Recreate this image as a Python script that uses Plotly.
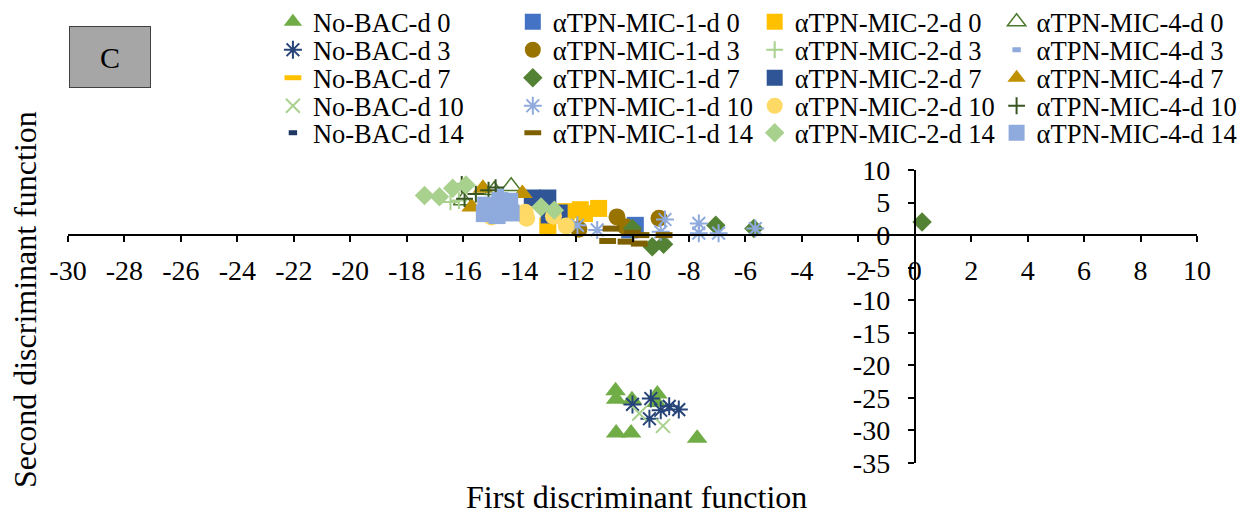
import plotly.graph_objects as go

# ---------------- data ----------------
NOBAC_D0_X = [-10.60, -10.58, -10.02, -9.12, -9.15, -10.58, -10.05, -7.71]
NOBAC_D0_Y = [-23.9, -25.2, -25.3, -24.4, -25.7, -30.4, -30.4, -31.2]
NOBAC_D3_X = [-10.00, -9.35, -9.40, -9.00, -8.70, -8.36]
NOBAC_D3_Y = [-26.0, -25.1, -28.2, -26.9, -26.3, -26.8]
NOBAC_D7_X = [-14.80, -14.50]
NOBAC_D7_Y = [4.2, 4.6]
NOBAC_D10_X = [-9.76, -8.92]
NOBAC_D10_Y = [-27.4, -29.3]
NOBAC_D14_X = [-15.00, -14.60]
NOBAC_D14_Y = [4.0, 3.6]

MIC1_D0_X = [-9.90, -10.10]
MIC1_D0_Y = [1.5, 0.8]
MIC1_D3_X = [-10.55, -9.06, -11.90, -10.25]
MIC1_D3_Y = [2.8, 2.6, 0.9, 1.3]
MIC1_D7_X = [-9.30, -8.90, -7.05, -5.70, 0.26, -10.00]
MIC1_D7_Y = [-1.8, -1.4, 1.5, 1.0, 2.0, 1.0]
MIC1_D10_X = [-11.95, -11.25, -8.85, -9.00, -7.65, -7.65, -6.95, -5.65]
MIC1_D10_Y = [1.5, 0.8, 2.4, 0.5, 1.8, 0.3, 0.3, 1.0]
MIC1_D14_X = [-10.76, -10.88, -10.00, -9.70, -10.23, -9.76, -8.88]
MIC1_D14_Y = [1.0, -0.9, 0.35, 0.0, -1.0, -1.3, 0.0]

MIC2_D0_X = [-11.20, -11.85, -11.70, -12.35, -13.00]
MIC2_D0_Y = [4.1, 3.9, 3.3, 3.6, 1.4]
MIC2_D3_X = [-16.45, -16.15]
MIC2_D3_Y = [5.1, 5.3]
MIC2_D7_X = [-13.55, -13.00, -12.95, -12.60]
MIC2_D7_Y = [5.7, 5.7, 3.1, 3.4]
MIC2_D10_X = [-13.80, -13.75, -12.35, -12.80, -15.00]
MIC2_D10_Y = [3.5, 2.6, 1.4, 2.9, 2.8]
MIC2_D14_X = [-17.37, -16.84, -16.37, -15.90, -13.24, -12.77]
MIC2_D14_Y = [6.1, 5.9, 7.2, 7.7, 4.3, 3.8]

MIC4_D0_X = [-16.00, -14.30, -14.90]
MIC4_D0_Y = [5.3, 7.5, 6.9]
MIC4_D3_X = [-15.20, -14.70]
MIC4_D3_Y = [7.0, 6.8]
MIC4_D7_X = [-15.70, -15.30, -13.90, -14.60]
MIC4_D7_Y = [4.3, 7.2, 6.4, 5.0]
MIC4_D10_X = [-16.05, -15.95, -15.55, -14.85, -15.10]
MIC4_D10_Y = [7.8, 5.6, 6.3, 7.3, 6.9]
MIC4_D14_X = [-15.25, -15.20, -14.75, -14.35, -14.30, -14.80, -14.70]
MIC4_D14_Y = [3.3, 4.6, 4.0, 5.2, 3.4, 3.0, 5.3]

X_TICKS = list(range(-30, 11, 2))
Y_TICKS = list(range(-35, 11, 5))

# ---------------- styles ----------------
FONT = "Liberation Serif, Times New Roman, serif"
L, R, T, B = 68, 1197.5, 170, 463


def px_x(p):
    return (p - L) / (R - L)


def px_y(p):
    return (B - p) / (B - T)


def filled(symbol, color, size):
    return dict(symbol=symbol, color=color, size=size, line=dict(width=0, color=color))


def lined(symbol, color, size, width):
    return dict(symbol=symbol, color=color, size=size, line=dict(width=width, color=color))


# legend order (row-major, 4 columns x 5 rows as in the picture)
series = [
    ("No-BAC-d 0", NOBAC_D0_X, NOBAC_D0_Y, filled("triangle-up", "#70AD47", 18)),
    ("αTPN-MIC-1-d 0", MIC1_D0_X, MIC1_D0_Y, filled("square", "#4472C4", 17)),
    ("αTPN-MIC-2-d 0", MIC2_D0_X, MIC2_D0_Y, filled("square", "#FFC000", 17)),
    ("αTPN-MIC-4-d 0", MIC4_D0_X, MIC4_D0_Y, lined("triangle-up-open", "#4E7A2E", 17, 1.5)),
    ("No-BAC-d 3", NOBAC_D3_X, NOBAC_D3_Y, lined("asterisk-open", "#264478", 15, 2)),
    ("αTPN-MIC-1-d 3", MIC1_D3_X, MIC1_D3_Y, filled("circle", "#997300", 17)),
    ("αTPN-MIC-2-d 3", MIC2_D3_X, MIC2_D3_Y, lined("cross-thin-open", "#A9D18E", 12, 2)),
    ("αTPN-MIC-4-d 3", MIC4_D3_X, MIC4_D3_Y, lined("line-ew-open", "#8FAADC", 6, 5)),
    ("No-BAC-d 7", NOBAC_D7_X, NOBAC_D7_Y, lined("line-ew-open", "#FFC000", 12, 5)),
    ("αTPN-MIC-1-d 7", MIC1_D7_X, MIC1_D7_Y, filled("diamond", "#548235", 15)),
    ("αTPN-MIC-2-d 7", MIC2_D7_X, MIC2_D7_Y, filled("square", "#2F5597", 17)),
    ("αTPN-MIC-4-d 7", MIC4_D7_X, MIC4_D7_Y, filled("triangle-up", "#BF9000", 18)),
    ("No-BAC-d 10", NOBAC_D10_X, NOBAC_D10_Y, lined("x-thin-open", "#A9D18E", 14, 2)),
    ("αTPN-MIC-1-d 10", MIC1_D10_X, MIC1_D10_Y, lined("asterisk-open", "#8FAADC", 15, 2)),
    ("αTPN-MIC-2-d 10", MIC2_D10_X, MIC2_D10_Y, filled("circle", "#FFD966", 17)),
    ("αTPN-MIC-4-d 10", MIC4_D10_X, MIC4_D10_Y, lined("cross-thin-open", "#375623", 12, 2)),
    ("No-BAC-d 14", NOBAC_D14_X, NOBAC_D14_Y, lined("line-ew-open", "#203864", 6, 5)),
    ("αTPN-MIC-1-d 14", MIC1_D14_X, MIC1_D14_Y, lined("line-ew-open", "#7F6000", 12, 6)),
    ("αTPN-MIC-2-d 14", MIC2_D14_X, MIC2_D14_Y, filled("diamond", "#A9D18E", 15)),
    ("αTPN-MIC-4-d 14", MIC4_D14_X, MIC4_D14_Y, filled("square", "#8FAADC", 17)),
]

COL_TEXT_X = [313, 553, 795, 1037]
ROW_Y = [22, 50, 78, 106, 133]

fig = go.Figure()
legends = {}
for i, (name, xs, ys, marker) in enumerate(series):
    key = "legend" if i == 0 else f"legend{i + 1}"
    fig.add_trace(go.Scatter(x=xs, y=ys, mode="markers", name=name, marker=marker,
                             legend=key))
    col, row = i % 4, i // 4
    legends[key] = dict(
        x=px_x(COL_TEXT_X[col] - 40), y=px_y(ROW_Y[row]),
        xanchor="left", yanchor="middle",
        bgcolor="rgba(0,0,0,0)", borderwidth=0,
        font=dict(family=FONT, size=26.5, color="black"),
        itemsizing="trace",
    )

fig.update_layout(**legends)

fig.update_layout(
    width=1250, height=517,
    margin=dict(l=L, r=1250 - R, t=T, b=517 - B, autoexpand=False),
    paper_bgcolor="white", plot_bgcolor="white",
    font=dict(family=FONT, size=28, color="black"),
    showlegend=True,
    xaxis=dict(
        range=[-30, 10], tickmode="array", tickvals=X_TICKS,
        ticktext=[str(v) for v in X_TICKS],
        showgrid=False, zeroline=False, showline=True, linecolor="black", linewidth=2,
        ticks="outside", ticklen=6, tickwidth=2, tickcolor="black",
        anchor="free", position=35 / 45, side="bottom", ticklabelstandoff=4,
        tickfont=dict(family=FONT, size=28, color="black"),
    ),
    yaxis=dict(
        range=[-35, 10], tickmode="array", tickvals=Y_TICKS,
        ticktext=[str(v) for v in Y_TICKS],
        showgrid=False, zeroline=False, showline=True, linecolor="black", linewidth=2,
        ticks="outside", ticklen=6, tickwidth=2, tickcolor="black",
        anchor="free", position=30 / 40, side="left", ticklabelstandoff=12,
        tickfont=dict(family=FONT, size=28, color="black"),
    ),
    annotations=[
        dict(text="First discriminant function", xref="paper", yref="paper",
             x=px_x(637), y=px_y(497), xanchor="center", yanchor="middle",
             showarrow=False, font=dict(family=FONT, size=32, color="black")),
        dict(text="Second discriminant function", xref="paper", yref="paper",
             x=px_x(25), y=px_y(300), xanchor="center", yanchor="middle",
             textangle=-90, showarrow=False,
             font=dict(family=FONT, size=32, color="black")),
        dict(text="C", xref="paper", yref="paper",
             x=px_x(110), y=px_y(57.5), xanchor="center", yanchor="middle",
             showarrow=False, width=80, height=60, borderpad=0,
             bgcolor="#A6A6A6", bordercolor="#404040", borderwidth=1,
             font=dict(family=FONT, size=30, color="black")),
    ],
)

fig.write_html("out.html")
